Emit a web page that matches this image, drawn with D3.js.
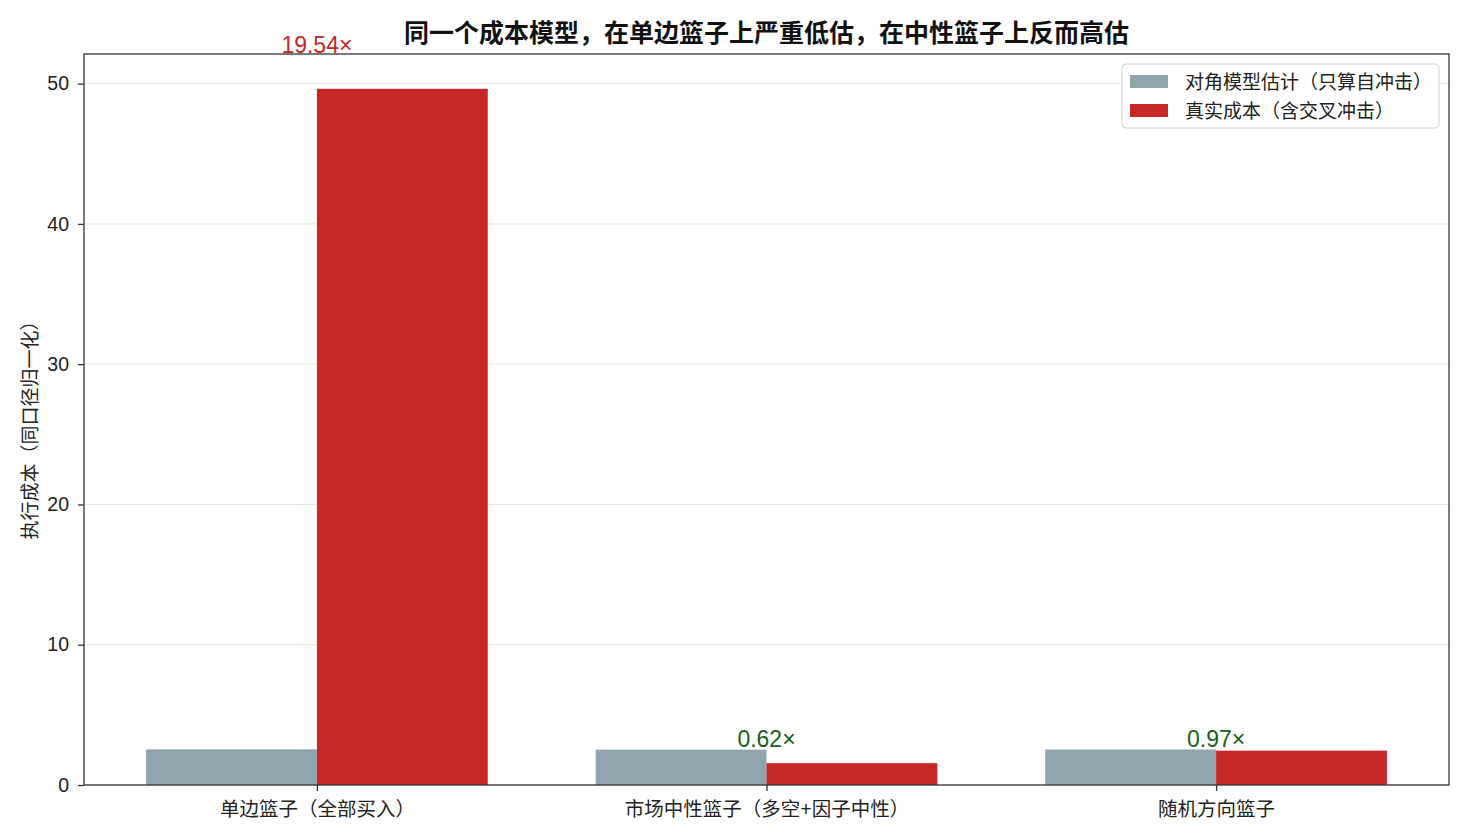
<!DOCTYPE html>
<html>
<head>
<meta charset="utf-8">
<script src="https://cdn.jsdelivr.net/npm/d3@7"></script>
<style>
  body { margin: 0; background: #fff; }
  svg text { font-family: "Liberation Sans", "Noto Sans CJK SC", sans-serif; }
</style>
</head>
<body>
<div id="chart"></div>
<script>
const categories = ['单边篮子（全部买入）', '市场中性篮子（多空+因子中性）', '随机方向篮子'];
const diagCost = [2.54, 2.52, 2.53];
const trueCost = [49.63, 1.56, 2.45];
const ratioLabels = ['19.54×', '0.62×', '0.97×'];
const yTicks = [0, 10, 20, 30, 40, 50];
const seriesNames = ['对角模型估计（只算自冲击）', '真实成本（含交叉冲击）'];
const seriesColors = ['#90a4ae', '#c62828'];

const W = 1470, H = 840;
const margin = { top: 54, right: 21, bottom: 55, left: 84 };
const width = W - margin.left - margin.right;
const height = H - margin.top - margin.bottom;
const barW = 0.38;

const svg = d3.select('#chart').append('svg')
  .attr('width', W).attr('height', H);

const g = svg.append('g')
  .attr('transform', `translate(${margin.left},${margin.top})`);

// matplotlib-style linear x with 5% margins
const pad = (categories.length - 1 + 2 * barW) * 0.05;
const x = d3.scaleLinear()
  .domain([-barW - pad, categories.length - 1 + barW + pad])
  .range([0, width]);

const yMax = d3.max(trueCost.concat(diagCost)) * 1.05;
const y = d3.scaleLinear()
  .domain([0, yMax])
  .range([height, 0]);

// grid
g.append('g')
  .selectAll('line')
  .data(yTicks)
  .join('line')
  .attr('x1', 0).attr('x2', width)
  .attr('y1', d => y(d)).attr('y2', d => y(d))
  .attr('stroke', '#e6e6e6').attr('stroke-width', 1);

// bars
[diagCost, trueCost].forEach((vals, s) => {
  g.append('g')
    .selectAll('rect')
    .data(vals)
    .join('rect')
    .attr('x', (d, i) => x(i + (s === 0 ? -barW : 0)))
    .attr('width', x(barW) - x(0))
    .attr('y', d => y(d))
    .attr('height', d => y(0) - y(d))
    .attr('fill', seriesColors[s]);
});

// ratio labels
g.append('g')
  .selectAll('text')
  .data(ratioLabels)
  .join('text')
  .attr('x', (d, i) => x(i))
  .attr('y', (d, i) => y(Math.max(diagCost[i], trueCost[i]) * 1.05))
  .attr('dy', '-0.05em')
  .attr('text-anchor', 'middle')
  .attr('font-size', 23)
  .attr('fill', (d, i) => trueCost[i] / diagCost[i] > 1 ? '#c62828' : '#1b5e20')
  .text(d => d);

// axes
const yAxis = g.append('g')
  .call(d3.axisLeft(y).tickValues(yTicks).tickSize(6).tickPadding(9));
const xAxis = g.append('g')
  .attr('transform', `translate(0,${height})`)
  .call(d3.axisBottom(x).tickValues(d3.range(categories.length)).tickFormat(i => categories[i]).tickSize(6).tickPadding(11));

[xAxis, yAxis].forEach(a => {
  a.select('.domain').remove();
  a.selectAll('text').attr('font-size', 19.5).attr('fill', '#222');
  a.selectAll('line').attr('stroke', '#333').attr('stroke-width', 1.3);
});

// frame
g.append('rect')
  .attr('width', width).attr('height', height)
  .attr('fill', 'none').attr('stroke', '#333').attr('stroke-width', 1.3);

// titles
svg.append('text')
  .attr('x', margin.left + width / 2).attr('y', 42)
  .attr('text-anchor', 'middle')
  .attr('font-size', 25).attr('font-weight', 'bold').attr('fill', '#111')
  .text('同一个成本模型，在单边篮子上严重低估，在中性篮子上反而高估');

svg.append('text')
  .attr('transform', `translate(37,${margin.top + height / 2 + 6}) rotate(-90)`)
  .attr('text-anchor', 'middle')
  .attr('font-size', 19).attr('fill', '#222')
  .text('执行成本（同口径归一化）');

// legend
const lg = svg.append('g').attr('transform', 'translate(1122,64)');
lg.append('rect')
  .attr('width', 317).attr('height', 64).attr('rx', 4)
  .attr('fill', '#fff').attr('fill-opacity', 0.8)
  .attr('stroke', '#d0d0d0');
seriesNames.forEach((name, i) => {
  lg.append('rect')
    .attr('x', 8).attr('y', 11 + i * 29)
    .attr('width', 38).attr('height', 13)
    .attr('fill', seriesColors[i]);
  lg.append('text')
    .attr('x', 63).attr('y', 18 + i * 29)
    .attr('dy', '0.35em')
    .attr('font-size', 19).attr('fill', '#222')
    .text(name);
});
</script>
</body>
</html>
